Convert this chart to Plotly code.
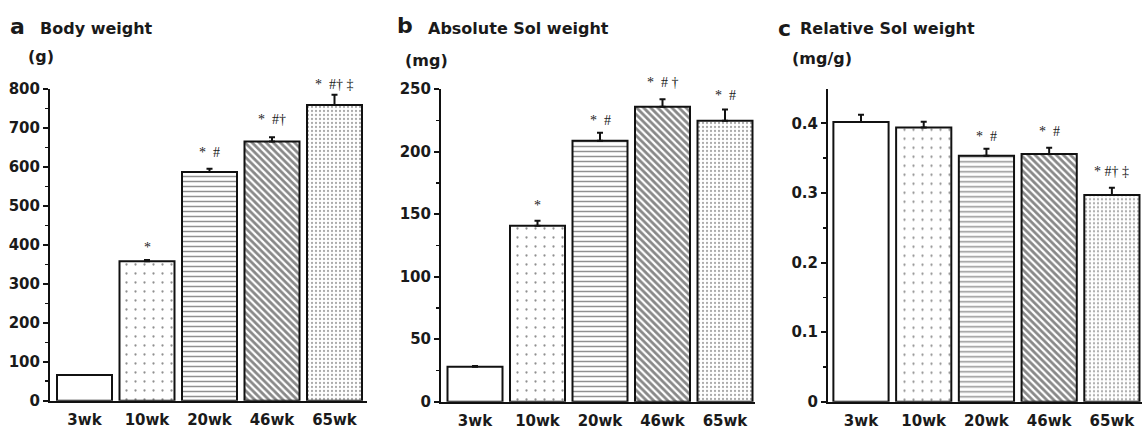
import plotly.graph_objects as go

W, H = 1143, 430

categories = ["3wk", "10wk", "20wk", "46wk", "65wk"]

# Panel a: Body weight (g)
body_weight = [66, 358, 587, 665, 759]
body_weight_err = [0, 3, 8, 11, 26]
body_sig = ["", "*", "*\u00a0\u00a0#", "*\u00a0\u00a0#†", "*\u00a0\u00a0#†\u00a0‡"]
body_sig_y = [None, 394, 638, 723, 812]

# Panel b: Absolute Sol weight (mg)
abs_sol = [28, 140.7, 208.6, 235.8, 224.6]
abs_sol_err = [0.5, 4, 6.5, 6, 9]
abs_sig = ["", "*", "*\u00a0\u00a0#", "*\u00a0\u00a0#\u00a0†", "*\u00a0\u00a0#"]
abs_sig_y = [None, 157, 225, 255, 245]

# Panel c: Relative Sol weight (mg/g)
rel_sol = [0.402, 0.394, 0.3536, 0.356, 0.297]
rel_sol_err = [0.0105, 0.0085, 0.01, 0.009, 0.0106]
rel_sig = ["", "", "*\u00a0\u00a0#", "*\u00a0\u00a0#", "*\u00a0#†\u00a0‡"]
rel_sig_y = [None, None, 0.381, 0.388, 0.3306]

pattern_shapes = ["", ".", "-", "\\", "."]
pattern_sizes = [8, 9, 5, 5, 4]
pattern_solid = [0.2, 0.05, 0.3, 0.55, 0.25]
pattern_fg = ["black", "#222222", "#222222", "#111111", "#555555"]

TXT = "#1a1a1a"
BOLD = dict(family="DejaVu Sans", weight="bold", color=TXT)

fig = go.Figure()

panels = [
    dict(vals=body_weight, err=body_weight_err, sig=body_sig, sig_y=body_sig_y,
         xdom=(50, 367), xr=(-0.552, 4.52), ydom=(89, 400.7), yr=(0, 800),
         dtick=100, minor=50, xa="x", ya="y"),
    dict(vals=abs_sol, err=abs_sol_err, sig=abs_sig, sig_y=abs_sig_y,
         xdom=(441, 755), xr=(-0.544, 4.48), ydom=(89, 401.7), yr=(0, 250),
         dtick=50, minor=25, xa="x2", ya="y2"),
    dict(vals=rel_sol, err=rel_sol_err, sig=rel_sig, sig_y=rel_sig_y,
         xdom=(828, 1142), xr=(-0.526, 4.48), ydom=(89.3, 401.7), yr=(0, 0.449),
         dtick=0.1, minor=0.05, xa="x3", ya="y3"),
]

annotations = []
for i, p in enumerate(panels):
    fig.add_trace(go.Bar(
        x=list(range(len(categories))), y=p["vals"],
        xaxis=p["xa"], yaxis=p["ya"],
        marker=dict(color="white", line=dict(color="#111111", width=2),
                    pattern=dict(shape=pattern_shapes, size=pattern_sizes,
                                 solidity=pattern_solid, fgcolor=pattern_fg,
                                 bgcolor="white", fillmode="overlay")),
        error_y=dict(type="data", array=p["err"], arrayminus=[0] * 5,
                     symmetric=False, color="#111111", thickness=2, width=3),
        showlegend=False, hoverinfo="skip",
    ))
    suffix = "" if i == 0 else str(i + 1)
    fig.update_layout(**{
        "xaxis" + suffix: dict(
            domain=[p["xdom"][0] / W, p["xdom"][1] / W], range=list(p["xr"]),
            anchor="y" + suffix, showline=True, linecolor="#111111", linewidth=2,
            showgrid=False, zeroline=False, ticks="", automargin=False,
            tickmode="array", tickvals=list(range(len(categories))), ticktext=categories,
            tickfont=dict(size=15, **BOLD), ticklabelstandoff=4,
        ),
        "yaxis" + suffix: dict(
            domain=[1 - p["ydom"][1] / H, 1 - p["ydom"][0] / H], range=list(p["yr"]),
            anchor="x" + suffix, showline=True, linecolor="#111111", linewidth=2,
            showgrid=False, zeroline=False, ticks="outside", ticklen=5, tickwidth=2,
            tickcolor="#111111", dtick=p["dtick"], tick0=0, automargin=False,
            minor=dict(dtick=p["minor"], ticks="outside", ticklen=3, tickwidth=1.5,
                       tickcolor="#111111", showgrid=False),
            tickfont=dict(size=15, **BOLD),
        ),
    })
    # significance labels: placed in paper coordinates (they may sit above the axis range)
    y0, y1 = p["yr"]
    top_px, bot_px = p["ydom"]
    for j, (t, yy) in enumerate(zip(p["sig"], p["sig_y"])):
        if t and yy is not None:
            py = bot_px - (yy - y0) / (y1 - y0) * (bot_px - top_px)
            annotations.append(dict(
                x=j, y=1 - py / H, xref=p["xa"], yref="paper", text=t, showarrow=False,
                xanchor="center", yanchor="middle",
                font=dict(family="Liberation Serif", size=14, color=TXT)))

# Titles
def title(x, y, text, size):
    annotations.append(dict(x=x / W, y=1 - y / H, xref="paper", yref="paper",
                            text=text, showarrow=False, xanchor="left", yanchor="middle",
                            font=dict(size=size, **BOLD)))

title(8, 26, "a", 22)
title(38, 28.5, "Body weight", 16)
title(26, 56, "(g)", 16)
title(395, 25.5, "b", 22)
title(426, 29, "Absolute Sol weight", 16)
title(403, 60, "(mg)", 16)
title(776, 28, "c", 22)
title(798, 29, "Relative Sol weight", 16)
title(790, 59, "(mg/g)", 16)

fig.update_layout(
    width=W, height=H, autosize=False,
    margin=dict(l=0, r=0, t=0, b=0, autoexpand=False),
    paper_bgcolor="white", plot_bgcolor="white",
    bargap=0.12, annotations=annotations,
)

fig.write_html(
    "out.html",
    config={"displayModeBar": False, "staticPlot": True},
    post_script="document.body.style.margin='0px';document.body.style.overflow='hidden';",
)
